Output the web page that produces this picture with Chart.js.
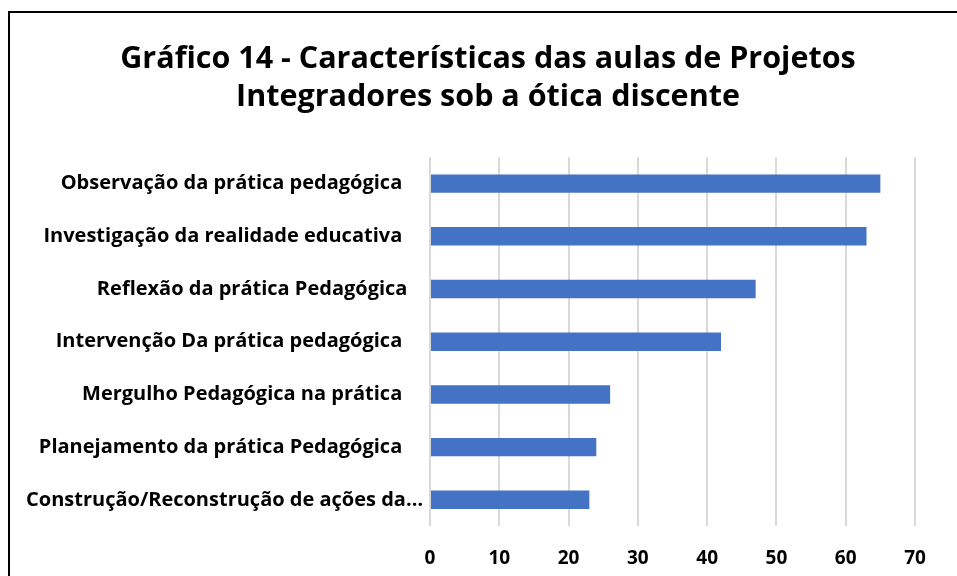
<!DOCTYPE html>
<html>
<head>
<meta charset="utf-8">
<script src="https://cdn.jsdelivr.net/npm/chart.js@4"></script>
<style>
  html, body { margin: 0; padding: 0; background: #fff; overflow: hidden; width: 957px; height: 576px; }
  #frame { position: absolute; left: 8px; top: 11px; width: 964px; height: 604px; border: 2px solid #000; box-sizing: border-box; background: #fff; }
  #c { display: block; }
</style>
</head>
<body>
<div id="frame"><canvas id="c" width="960" height="600"></canvas></div>
<script>
const titleLines = ["Gráfico 14 - Características das aulas de Projetos", "Integradores sob a ótica discente"];
const categories = [
  "Observação da prática pedagógica ",
  "Investigação da realidade educativa ",
  "Reflexão da prática Pedagógica",
  "Intervenção Da prática pedagógica ",
  "Mergulho Pedagógica na prática ",
  "Planejamento da prática Pedagógica ",
  "Construção/Reconstrução de ações da…"
];
const values = [65, 63, 47, 42, 26, 24, 23];
const xTicks = [0, 10, 20, 30, 40, 50, 60, 70];

const FONT = "'Open Sans', 'Noto Sans', 'DejaVu Sans', sans-serif";

new Chart(document.getElementById('c'), {
  type: 'bar',
  data: {
    labels: categories,
    datasets: [{
      data: values,
      backgroundColor: '#4472C4',
      borderWidth: 0,
      barPercentage: 0.35,
      categoryPercentage: 1.0
    }]
  },
  options: {
    indexAxis: 'y',
    responsive: false,
    animation: false,
    devicePixelRatio: 1,
    layout: { padding: { left: 0, right: 4, top: 0, bottom: 22 } },
    plugins: {
      legend: { display: false },
      tooltip: { enabled: false },
      title: {
        display: true,
        text: titleLines,
        color: '#000',
        font: { family: FONT, size: 30.5, weight: 'bold', lineHeight: 1.25 },
        padding: { top: 27, bottom: 41 }
      }
    },
    scales: {
      x: {
        min: xTicks[0],
        max: xTicks[xTicks.length - 1],
        ticks: {
          stepSize: xTicks[1] - xTicks[0],
          color: '#000',
          font: { family: FONT, size: 19, weight: 'bold' },
          padding: 21
        },
        grid: { color: '#d9d9d9', lineWidth: 2, drawTicks: false },
        border: { display: false }
      },
      y: {
        afterFit: function (scale) { scale.width = 420; },
        ticks: {
          color: '#000',
          font: { family: FONT, size: 20, weight: 'bold' },
          padding: 7,
          callback: function (v) {
            const s = this.getLabelForValue(v);
            return s.endsWith('…') ? s : s + '   ';
          }
        },
        grid: { display: false, drawTicks: false },
        border: { display: false }
      },
      yRight: {
        type: 'linear',
        position: 'right',
        display: true,
        afterFit: function (scale) { scale.width = 51; },
        ticks: { display: false },
        grid: { display: false, drawTicks: false },
        border: { display: false }
      }
    }
  }
});
</script>
</body>
</html>
